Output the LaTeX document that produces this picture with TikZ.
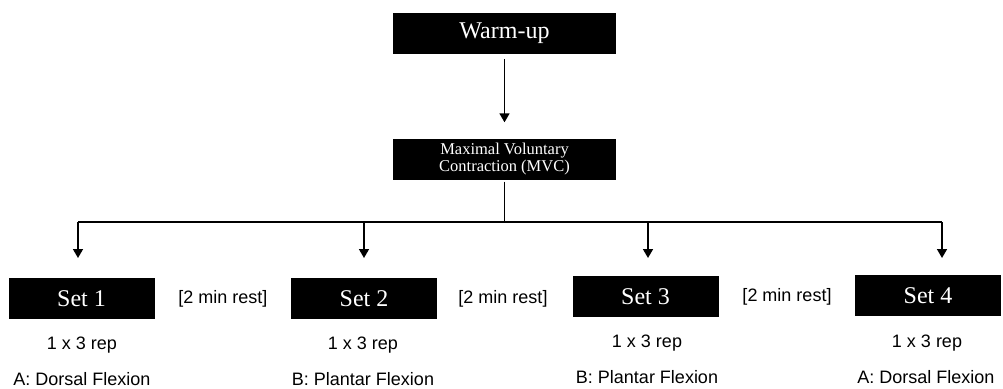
\documentclass[tikz,border=0pt]{standalone}
\usepackage{fontspec}
\setmainfont{Liberation Serif}
\newfontfamily\arialfont{Liberation Sans}
\usetikzlibrary{arrows.meta}
\begin{document}
\begin{tikzpicture}[x=1pt,y=-1pt,
  blackbox/.style={fill=black,text=white,inner sep=0pt,minimum width=223pt,minimum height=41pt,font=\fontsize{24}{28}\selectfont},
  setbox/.style={fill=black,text=white,inner sep=0pt,minimum width=146pt,minimum height=41pt,font=\fontsize{24}{28}\selectfont},
  lbl/.style={inner sep=0pt,font=\arialfont\fontsize{18}{21}\selectfont},
  conn/.style={line width=1.6pt},
  arr/.style={line width=1.6pt,-{Triangle[width=10pt,length=9pt]}}]
\useasboundingbox (0,0) rectangle (1003,388);
\node[blackbox] (warm) at (504.5,33.5) {Warm-up};
\node[blackbox,align=center,font=\fontsize{16.5}{17.5}\selectfont] (mvc) at (504.5,159) {Maximal Voluntary\\Contraction (MVC)};
\draw[arr] ([yshift=-5pt]warm.south) -- ([yshift=16pt]mvc.north);
\coordinate (hl) at (78,222);
\coordinate (hr) at (942,222);
\coordinate (h2) at (364,222);
\coordinate (h3) at (648,222);
\coordinate (a1) at (78,258);
\coordinate (a2) at (364,258);
\coordinate (a3) at (648,258);
\coordinate (a4) at (942,258);
\draw[conn] ([yshift=-2pt]mvc.south) -- (mvc.south |- hl);
\draw[conn] (hl) -- (hr);
\draw[arr] (hl) -- (a1);
\draw[arr] (h2) -- (a2);
\draw[arr] (h3) -- (a3);
\draw[arr] (hr) -- (a4);
\node[setbox] (s1) at (81.5,298.5) {Set 1};
\node[setbox] (s2) at (364,298.5) {Set 2};
\node[setbox] (s3) at (645.5,296.5) {Set 3};
\node[setbox] (s4) at (928,295.5) {Set 4};
\node[lbl] (r1) at (223,299) {[2 min rest]};
\node[lbl] (r2) at (503,299) {[2 min rest]};
\node[lbl] (r3) at (787,297) {[2 min rest]};
\node[lbl] (p1) at (82,345) {1 x 3 rep};
\node[lbl] (p2) at (363,345) {1 x 3 rep};
\node[lbl] (p3) at (647,343) {1 x 3 rep};
\node[lbl] (p4) at (927,343) {1 x 3 rep};
\node[lbl] (m1) at (82,379.5) {A: Dorsal Flexion};
\node[lbl] (m2) at (363,379.5) {B: Plantar Flexion};
\node[lbl] (m3) at (647,377.5) {B: Plantar Flexion};
\node[lbl] (m4) at (926,377.5) {A: Dorsal Flexion};
\end{tikzpicture}
\end{document}
